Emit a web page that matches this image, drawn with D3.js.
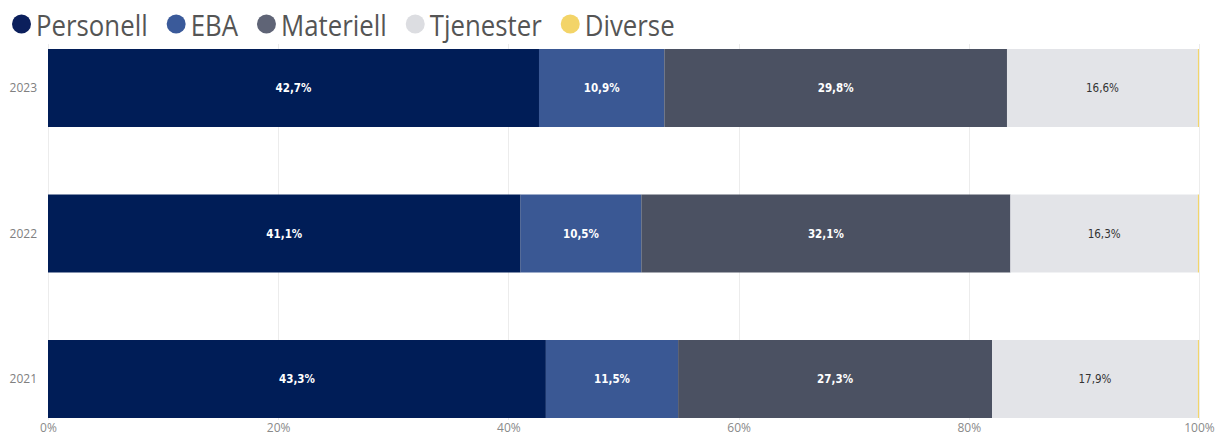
<!DOCTYPE html>
<html><head><meta charset="utf-8">
<script src="https://cdn.jsdelivr.net/npm/d3@7"></script>
<style>body{margin:0;background:#fff;}svg{display:block;}</style>
</head><body>
<svg id="c" width="1215" height="433"></svg>
<script>
const years = ["2023", "2022", "2021"];
const seriesNames = ["Personell", "EBA", "Materiell", "Tjenester", "Diverse"];
const personell = [42.7, 41.1, 43.3];
const eba = [10.9, 10.5, 11.5];
const materiell = [29.8, 32.1, 27.3];
const tjenester = [16.6, 16.3, 17.9];
const diverse = [0.1, 0.1, 0.1];
const xTicks = [0, 0.2, 0.4, 0.6, 0.8, 1.0];
const colors = ["#001d57", "#3a5894", "#4b5162", "#e3e4e8", "#f2d56b"];
const legendColors = ["#0b1f5c", "#3a5a9a", "#5f6476", "#dcdde1", "#f3d468"];
const labelColors = ["#ffffff", "#ffffff", "#ffffff", "#333333", "#333333"];

const rows = years.map((y, i) => ({year: y, Personell: personell[i], EBA: eba[i], Materiell: materiell[i], Tjenester: tjenester[i], Diverse: diverse[i]}));
const stack = d3.stack().keys(seriesNames).offset(d3.stackOffsetExpand)(rows);

const svg = d3.select("#c");
const x = d3.scaleLinear().domain([0, 1]).range([48, 1199]);
const y = d3.scaleBand().domain(years).range([15.25, 451.75]).paddingInner(0.464).paddingOuter(0.232);

// gridlines
svg.append("g").selectAll("line").data(xTicks).join("line")
  .attr("x1", d => Math.round(x(d)) + 0.5).attr("x2", d => Math.round(x(d)) + 0.5)
  .attr("y1", 44).attr("y2", 420)
  .attr("stroke", "#ececec").attr("stroke-width", 1);

// bars
const g = svg.append("g");
stack.forEach((s, si) => {
  g.append("g").selectAll("rect").data(s).join("rect")
    .attr("x", d => x(d[0]))
    .attr("y", d => y(d.data.year))
    .attr("width", d => Math.max(0, x(d[1]) - x(d[0])))
    .attr("height", y.bandwidth())
    .attr("fill", colors[si]);
  if (si < 4) {
    g.append("g").selectAll("text").data(s).join("text")
      .attr("x", d => (x(d[0]) + x(d[1])) / 2)
      .attr("y", d => y(d.data.year) + y.bandwidth() / 2)
      .attr("dy", "0.35em")
      .attr("text-anchor", "middle")
      .attr("font-family", "'DejaVu Sans Condensed', 'DejaVu Sans', sans-serif")
      .attr("font-weight", si < 3 ? "bold" : "normal")
      .attr("font-size", 11.5)
      .attr("fill", labelColors[si])
      .text(d => d.data[seriesNames[si]].toFixed(1).replace(".", ",") + "%");
  }
});

// y axis labels
svg.append("g").selectAll("text").data(years).join("text")
  .attr("x", 37).attr("y", d => y(d) + y.bandwidth() / 2)
  .attr("dy", "0.35em").attr("text-anchor", "end")
  .attr("font-family", "'Open Sans', sans-serif").attr("font-size", 12)
  .attr("fill", "#808080").text(d => d);

// x axis labels
const xAxis = d3.axisBottom(x).tickValues(xTicks).tickFormat(d3.format(".0%")).tickSize(0).tickPadding(0);
const xa = svg.append("g").attr("transform", "translate(0,423)").call(xAxis);
xa.select(".domain").remove();
xa.selectAll("text").attr("font-family", "'Open Sans', sans-serif").attr("font-size", 12).attr("fill", "#8a8a8a");

// legend
const leg = svg.append("g");
let lx = 12;
const sx = 0.86;
seriesNames.forEach((n, i) => {
  leg.append("circle").attr("cx", lx + 9.5).attr("cy", 24).attr("r", 9.5).attr("fill", legendColors[i]);
  const tg = leg.append("g").attr("transform", `translate(${lx + 24},36) scale(${sx},1)`);
  const t = tg.append("text").attr("x", 0).attr("y", 0)
    .attr("font-family", "'Open Sans', sans-serif").attr("font-size", 30).attr("fill", "#555")
    .text(n);
  lx += 24 + t.node().getComputedTextLength() * sx + 19;
});
</script>
</body></html>
